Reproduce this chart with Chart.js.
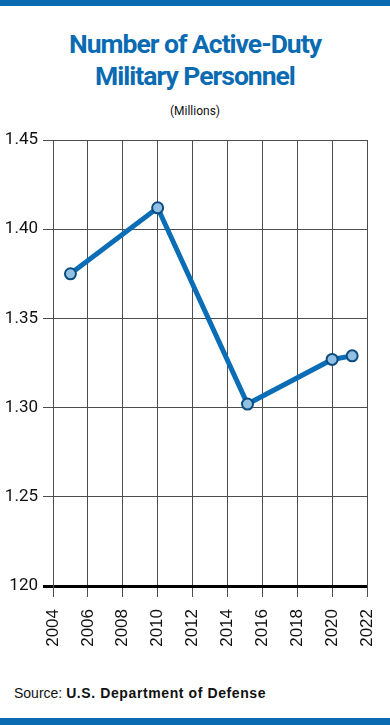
<!DOCTYPE html>
<html>
<head>
<meta charset="utf-8">
<script src="https://cdn.jsdelivr.net/npm/chart.js@4/dist/chart.umd.min.js"></script>
<style>
  html, body { margin:0; padding:0; background:#fff; }
  body { width:390px; height:725px; position:relative; overflow:hidden; }
  .bar { position:absolute; left:0; width:390px; background:#0a6bb3; }
  #title { position:absolute; top:28px; left:0; width:390px; text-align:center;
    font-family:"Roboto","Liberation Sans",sans-serif; font-weight:bold;
    font-size:26.5px; line-height:32px; color:#0a6bb3; letter-spacing:-1px; }
  #sub { position:absolute; top:104px; left:0; width:390px; text-align:center;
    font-family:"Roboto",sans-serif; font-size:12px; color:#111; }
  #src { position:absolute; top:685px; left:14px; font-family:"Liberation Sans",Arial,sans-serif;
    font-size:14px; color:#111; }
  #src b { letter-spacing:0.6px; }
  #wrap { position:absolute; top:120px; left:0; width:390px; height:540px; }
</style>
</head>
<body>
<div class="bar" style="top:0;height:6px"></div>
<div id="title">Number of Active-Duty<br>Military Personnel</div>
<div id="sub">(Millions)</div>
<div id="wrap"><canvas id="c" width="390" height="540"></canvas></div>
<div id="src">Source: <b>U.S. Department of Defense</b></div>
<div class="bar" style="top:718px;height:7px"></div>
<script>
const years = [2005, 2010, 2015.15, 2020, 2021.15];
const personnel = [1.375, 1.412, 1.302, 1.327, 1.329];
const yTickLabels = ["120", "1.25", "1.30", "1.35", "1.40", "1.45"];
const xTickLabels = ["2004","2006","2008","2010","2012","2014","2016","2018","2020","2022"];

const gridGray = '#4d4d4d';
const isBase = v => Math.abs(v - 1.2) < 1e-6;

new Chart(document.getElementById('c'), {
  type: 'line',
  data: {
    datasets: [{
      data: years.map((y, i) => ({ x: y, y: personnel[i] })),
      borderColor: '#0a6db5',
      borderWidth: 5,
      tension: 0,
      pointRadius: 5.5,
      pointBackgroundColor: '#92c0e3',
      pointBorderColor: '#0b4c80',
      pointBorderWidth: 2,
      clip: false
    }]
  },
  options: {
    responsive: false,
    animation: false,
    devicePixelRatio: 1,
    layout: { padding: { top: 20, right: 23, left: 0, bottom: 0 } },
    plugins: { legend: { display: false }, tooltip: { enabled: false } },
    scales: {
      x: {
        type: 'linear', min: 2004, max: 2022,
        afterFit: s => { s.height = 74; s.paddingLeft = 0; s.paddingRight = 0; },
        ticks: {
          stepSize: 2, minRotation: 90, maxRotation: 90, padding: 12,
          color: '#111',
          font: { family: 'Liberation Sans', size: 17 },
          callback: (v, i) => xTickLabels[i]
        },
        grid: { color: gridGray, lineWidth: 1, tickLength: 11, drawOnChartArea: true },
        border: { display: false }
      },
      y: {
        min: 1.2, max: 1.45,
        afterFit: s => { s.width = 53; s.paddingTop = 0; s.paddingBottom = 0; },
        ticks: {
          stepSize: 0.05, padding: 5, color: '#111',
          font: { family: 'Roboto', size: 17 },
          callback: (v, i) => yTickLabels[i]
        },
        grid: {
          color: c => isBase(c.tick.value) ? '#000' : gridGray,
          lineWidth: c => isBase(c.tick.value) ? 3 : 1,
          tickColor: c => isBase(c.tick.value) ? '#000' : gridGray,
          tickWidth: c => isBase(c.tick.value) ? 3 : 1,
          tickLength: 10
        },
        border: { display: true, color: gridGray, width: 1 }
      }
    }
  }
});
</script>
</body>
</html>
